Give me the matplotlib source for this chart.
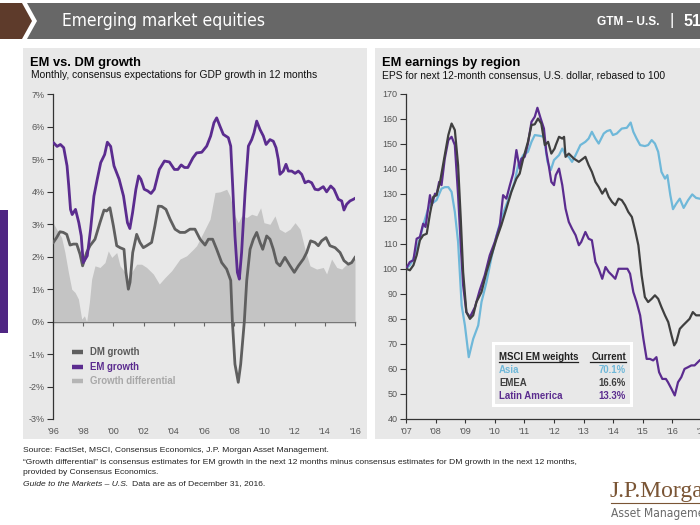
import matplotlib
matplotlib.use("Agg")
import matplotlib.pyplot as plt
from matplotlib.patches import Polygon, Rectangle
from matplotlib.lines import Line2D
from matplotlib import font_manager
from matplotlib.font_manager import FontProperties

# ---------------- data: left panel (EM vs DM growth, %) ----------------
em_years = [1996.04, 1996.27, 1996.49, 1996.71, 1996.93, 1997.04, 1997.16, 1997.27, 1997.49, 1997.71,
            1997.87, 1998.00, 1998.27, 1998.49, 1998.71, 1998.93, 1999.16, 1999.42, 1999.60, 1999.82,
            2000.04, 2000.38, 2000.67, 2000.93, 2001.09, 2001.27, 2001.49, 2001.67, 2001.82, 2002.04,
            2002.27, 2002.49, 2002.71, 2003.04, 2003.38, 2003.71, 2004.04, 2004.27, 2004.49, 2004.71,
            2004.93, 2005.27, 2005.51, 2005.85, 2006.18, 2006.44, 2006.66, 2006.84, 2007.06, 2007.28,
            2007.61, 2007.77, 2007.90, 2008.05, 2008.21, 2008.34, 2008.49, 2008.72, 2008.94, 2009.16,
            2009.31, 2009.49, 2009.71, 2009.93, 2010.11, 2010.37, 2010.59, 2010.77, 2010.92, 2011.03,
            2011.25, 2011.43, 2011.59, 2011.81, 2012.03, 2012.25, 2012.47, 2012.69, 2012.91, 2013.13,
            2013.35, 2013.57, 2013.90, 2014.12, 2014.39, 2014.61, 2014.90, 2015.12, 2015.27, 2015.45,
            2015.67, 2015.89, 2016.00]
em_growth = [5.51, 5.40, 5.46, 5.36, 4.80, 4.20, 3.46, 3.30, 3.46, 3.05,
             2.64, 1.82, 2.03, 2.85, 3.87, 4.39, 4.90, 5.15, 5.53, 5.40,
             4.80, 4.39, 3.87, 3.05, 2.87, 3.36, 4.08, 4.49, 4.39, 4.08,
             4.03, 3.95, 4.08, 4.69, 4.95, 4.92, 4.69, 4.69, 4.83, 4.75,
             4.75, 5.05, 5.20, 5.22, 5.41, 5.72, 6.13, 6.28, 6.02, 5.77,
             5.67, 5.41, 4.18, 2.64, 1.52, 1.31, 2.13, 3.98, 5.41, 5.61,
             5.82, 6.18, 5.92, 5.72, 5.46, 5.61, 5.56, 5.36, 5.00, 4.54,
             4.64, 4.85, 4.64, 4.64, 4.57, 4.64, 4.54, 4.28, 4.33, 4.28,
             4.08, 4.06, 4.16, 4.00, 4.18, 4.08, 3.77, 3.72, 3.44, 3.62,
             3.72, 3.77, 3.80]

dm_years = [1996.02, 1996.24, 1996.46, 1996.68, 1996.91, 1997.13, 1997.35, 1997.57, 1997.79, 1997.96,
            1998.23, 1998.45, 1998.78, 1999.11, 1999.38, 1999.55, 1999.77, 2000.00, 2000.22, 2000.44,
            2000.70, 2000.83, 2000.99, 2001.10, 2001.28, 2001.54, 2001.76, 2001.98, 2002.20, 2002.53,
            2002.75, 2002.98, 2003.20, 2003.48, 2003.75, 2004.08, 2004.41, 2004.74, 2005.07, 2005.40,
            2005.74, 2006.07, 2006.29, 2006.57, 2006.84, 2007.17, 2007.50, 2007.77, 2007.88, 2008.05,
            2008.27, 2008.43, 2008.67, 2008.83, 2009.05, 2009.27, 2009.49, 2009.71, 2009.89, 2010.15,
            2010.37, 2010.59, 2010.81, 2011.03, 2011.36, 2011.70, 2011.98, 2012.25, 2012.58, 2012.80,
            2013.06, 2013.35, 2013.57, 2013.79, 2014.08, 2014.34, 2014.68, 2015.01, 2015.27, 2015.56,
            2015.78, 2016.00]
dm_growth = [2.44, 2.59, 2.77, 2.75, 2.69, 2.36, 2.39, 2.39, 2.08, 1.72,
             2.13, 2.34, 2.54, 3.05, 3.44, 3.41, 3.51, 2.95, 2.34, 2.28,
             2.23, 1.52, 1.00, 1.21, 2.13, 2.69, 2.44, 2.28, 2.34, 2.44,
             2.95, 3.56, 3.55, 3.46, 3.16, 2.85, 2.75, 2.75, 2.85, 2.85,
             2.54, 2.36, 2.54, 2.54, 2.23, 1.82, 1.62, 1.27, 0.00, -1.31,
             -1.87, -1.31, 0.00, 1.27, 2.23, 2.54, 2.75, 2.44, 2.23, 2.64,
             2.54, 2.23, 1.82, 1.72, 1.98, 1.72, 1.52, 1.72, 1.93, 2.13,
             2.49, 2.44, 2.34, 2.49, 2.59, 2.34, 2.28, 2.13, 1.88, 1.77,
             1.82, 1.98]

diff_years = [1996.00, 1996.24, 1996.57, 1996.79, 1997.02, 1997.24, 1997.46, 1997.68, 1997.90, 1998.08,
              1998.23, 1998.41, 1998.56, 1998.78, 1999.11, 1999.44, 1999.66, 1999.89, 2000.22, 2000.44,
              2000.77, 2000.99, 2001.21, 2001.54, 2001.87, 2002.20, 2002.64, 2003.04, 2003.42, 2003.86,
              2004.41, 2004.85, 2005.29, 2005.51, 2005.96, 2006.40, 2006.73, 2007.06, 2007.50, 2007.72,
              2008.05, 2008.27, 2008.49, 2008.83, 2009.16, 2009.49, 2009.75, 2009.97, 2010.37, 2010.70,
              2010.99, 2011.36, 2011.70, 2012.03, 2012.36, 2012.69, 2013.02, 2013.46, 2013.90, 2014.12,
              2014.45, 2014.79, 2015.12, 2015.45, 2015.89, 2016.00]
growth_diff = [3.05, 2.85, 2.59, 2.13, 1.52, 1.00, 0.90, 0.70, 0.08, 0.18,
               0.00, 0.60, 1.31, 1.72, 1.67, 1.82, 2.18, 1.98, 2.13, 1.72,
               1.52, 1.31, 1.52, 1.77, 1.77, 1.67, 1.47, 1.16, 1.36, 1.57,
               1.93, 2.03, 2.23, 2.34, 2.75, 3.16, 3.98, 4.00, 4.08, 3.87,
               3.26, 3.05, 3.26, 3.21, 3.31, 3.26, 3.51, 3.05, 3.00, 3.26,
               2.85, 2.75, 2.85, 3.05, 2.85, 2.23, 1.72, 1.62, 1.67, 1.47,
               1.93, 1.67, 1.62, 1.77, 1.93, 1.93]

left_yticks = [-3, -2, -1, 0, 1, 2, 3, 4, 5, 6, 7]
left_xticks = [1996, 1998, 2000, 2002, 2004, 2006, 2008, 2010, 2012, 2014, 2016]
left_xlabels = ["'96", "'98", "'00", "'02", "'04", "'06", "'08", "'10", "'12", "'14", "'16"]
left_legend = ["DM growth", "EM growth", "Growth differential"]

# ---------------- data: right panel (EPS rebased to 100) ----------------
asia_years = [2007.00, 2007.13, 2007.25, 2007.36, 2007.47, 2007.58, 2007.75, 2007.87, 2008.03, 2008.20,
              2008.31, 2008.43, 2008.54, 2008.65, 2008.76, 2008.88, 2008.99, 2009.12, 2009.27, 2009.44,
              2009.55, 2009.72, 2009.89, 2010.06, 2010.22, 2010.34, 2010.51, 2010.67, 2010.79, 2010.96,
              2011.12, 2011.24, 2011.35, 2011.52, 2011.66, 2011.78, 2011.89, 2012.00, 2012.17, 2012.28,
              2012.39, 2012.50, 2012.61, 2012.73, 2012.89, 2013.06, 2013.17, 2013.28, 2013.40, 2013.51,
              2013.68, 2013.79, 2013.90, 2013.99, 2014.12, 2014.29, 2014.46, 2014.59, 2014.68, 2014.79,
              2014.91, 2015.07, 2015.18, 2015.30, 2015.41, 2015.52, 2015.63, 2015.75, 2015.83, 2015.93,
              2016.02, 2016.13, 2016.25, 2016.38, 2016.53, 2016.67, 2016.80, 2016.92]
asia_eps = [100.0, 101.4, 104.0, 108.0, 112.0, 117.4, 124.0, 126.0, 127.4, 132.0,
            132.6, 132.6, 130.7, 122.7, 110.7, 85.4, 77.4, 64.7, 72.0, 77.4,
            86.7, 94.7, 104.7, 113.4, 120.0, 124.0, 129.4, 134.7, 141.4, 145.4,
            146.7, 150.7, 153.4, 153.1, 152.7, 142.7, 139.4, 143.4, 145.4, 148.0,
            145.4, 144.7, 142.7, 145.4, 149.4, 150.7, 152.0, 154.7, 152.0, 150.0,
            154.0, 155.0, 155.4, 153.4, 154.0, 156.0, 156.3, 158.4, 154.7, 152.0,
            149.4, 149.0, 149.4, 151.4, 150.0, 146.7, 138.7, 136.0, 137.4, 129.4,
            123.8, 126.0, 128.0, 124.3, 127.4, 129.7, 128.3, 128.0]

emea_years = [2007.00, 2007.13, 2007.25, 2007.36, 2007.47, 2007.58, 2007.70, 2007.81, 2007.92, 2008.03,
              2008.15, 2008.31, 2008.43, 2008.54, 2008.65, 2008.76, 2008.85, 2008.93, 2009.04, 2009.16,
              2009.27, 2009.38, 2009.55, 2009.72, 2009.89, 2010.06, 2010.22, 2010.39, 2010.56, 2010.73,
              2010.84, 2010.96, 2011.12, 2011.24, 2011.35, 2011.46, 2011.57, 2011.69, 2011.80, 2011.91,
              2012.02, 2012.06, 2012.17, 2012.28, 2012.34, 2012.39, 2012.50, 2012.67, 2012.84, 2012.95,
              2013.06, 2013.17, 2013.28, 2013.40, 2013.51, 2013.63, 2013.74, 2013.85, 2013.96, 2014.07,
              2014.18, 2014.29, 2014.40, 2014.51, 2014.63, 2014.74, 2014.85, 2014.96, 2015.07, 2015.18,
              2015.30, 2015.41, 2015.52, 2015.63, 2015.75, 2015.86, 2015.97, 2016.06, 2016.13, 2016.25,
              2016.36, 2016.47, 2016.58, 2016.69, 2016.80, 2016.92]
emea_eps = [100.0, 99.4, 101.4, 105.4, 111.4, 113.4, 114.0, 122.0, 128.7, 129.4,
            134.7, 145.4, 153.4, 158.0, 155.4, 141.4, 120.0, 98.7, 82.7, 80.0,
            81.4, 86.7, 90.7, 98.7, 105.4, 112.0, 117.4, 124.0, 130.7, 136.0,
            138.0, 144.0, 150.7, 157.4, 157.7, 160.0, 158.0, 149.4, 150.7, 146.0,
            148.0, 149.4, 152.7, 152.0, 152.7, 144.7, 146.0, 144.0, 142.7, 143.7,
            144.7, 141.4, 138.7, 134.7, 132.7, 130.0, 132.0, 128.7, 126.7, 125.4,
            128.0, 127.4, 125.4, 122.7, 120.7, 115.4, 109.4, 97.4, 88.7, 86.7,
            88.0, 89.4, 88.0, 84.7, 81.4, 78.7, 73.4, 69.4, 70.7, 76.0,
            77.4, 78.7, 80.0, 82.7, 81.4, 81.4]

latam_years = [2007.00, 2007.13, 2007.25, 2007.36, 2007.47, 2007.58, 2007.66, 2007.81, 2007.87, 2007.98,
               2008.03, 2008.12, 2008.20, 2008.31, 2008.43, 2008.54, 2008.65, 2008.76, 2008.85, 2008.93,
               2009.04, 2009.16, 2009.33, 2009.49, 2009.66, 2009.83, 2010.00, 2010.17, 2010.28, 2010.39,
               2010.51, 2010.62, 2010.67, 2010.73, 2010.84, 2010.90, 2011.01, 2011.12, 2011.24, 2011.35,
               2011.44, 2011.55, 2011.66, 2011.74, 2011.82, 2011.91, 2012.00, 2012.06, 2012.17, 2012.28,
               2012.39, 2012.50, 2012.61, 2012.73, 2012.84, 2012.92, 2013.06, 2013.17, 2013.28, 2013.40,
               2013.51, 2013.63, 2013.74, 2013.85, 2013.96, 2014.07, 2014.18, 2014.35, 2014.48, 2014.57,
               2014.68, 2014.79, 2014.91, 2015.02, 2015.13, 2015.24, 2015.35, 2015.46, 2015.55, 2015.66,
               2015.78, 2015.85, 2015.97, 2016.08, 2016.19, 2016.30, 2016.41, 2016.53, 2016.64, 2016.75,
               2016.86, 2016.92]
latam_eps = [100.0, 102.7, 103.4, 112.0, 112.7, 118.0, 116.7, 129.4, 125.4, 130.0,
             129.4, 134.7, 133.4, 144.0, 151.4, 152.7, 149.4, 129.4, 109.4, 93.4,
             82.7, 80.7, 84.7, 91.4, 97.4, 105.4, 110.7, 117.4, 129.4, 128.0,
             133.4, 138.0, 142.0, 147.4, 140.0, 144.0, 144.7, 150.0, 158.7, 160.7,
             164.3, 160.0, 156.0, 146.7, 141.4, 134.7, 133.4, 137.4, 140.0, 133.4,
             124.0, 118.7, 116.0, 113.4, 109.4, 110.7, 114.7, 112.0, 111.4, 102.7,
             100.0, 96.0, 100.7, 98.7, 97.4, 96.0, 100.0, 100.0, 100.0, 98.0,
             90.7, 86.7, 81.4, 72.0, 64.0, 64.0, 63.4, 64.7, 58.7, 56.0,
             56.0, 54.7, 52.0, 49.4, 54.7, 56.7, 60.0, 60.7, 61.4, 61.4,
             62.7, 63.4]

right_yticks = [40, 50, 60, 70, 80, 90, 100, 110, 120, 130, 140, 150, 160, 170]
right_xticks = [2007, 2008, 2009, 2010, 2011, 2012, 2013, 2014, 2015, 2016, 2017]
right_xlabels = ["'07", "'08", "'09", "'10", "'11", "'12", "'13", "'14", "'15", "'16", "'17"]
table_regions = ["Asia", "EMEA", "Latin America"]
table_weights = ["70.1%", "16.6%", "13.3%"]

# ---------------- style ----------------
C_EM = '#5b2c8f'
C_DM = '#5f5f5f'
C_DIFF = '#c4c4c4'
C_ASIA = '#6fb8d9'
C_EMEA = '#3f3f3f'
C_LATAM = '#5b2c8f'
PANEL = '#e8e8e8'
TICKC = '#555555'

plt.rcParams['font.family'] = ['Liberation Sans', 'DejaVu Sans']
ttf = font_manager.fontManager.ttflist
avail = {f.name for f in ttf}


def _is_regular(f):
    w = f.weight
    if isinstance(w, str):
        return w.lower() in ('normal', 'regular', 'book', 'medium', '400', '500')
    return 350 <= int(w) <= 500


def _is_cond(f):
    s = f.stretch
    if isinstance(s, str):
        return 'condensed' in s.lower() or 'narrow' in s.lower()
    return int(s) < 500


def find_condensed():
    for fam in ['Liberation Sans Narrow', 'DejaVu Sans', 'Roboto', 'Open Sans', 'Noto Sans']:
        for f in ttf:
            if f.name == fam and f.style == 'normal' and _is_regular(f) and (
                    'narrow' in fam.lower() or _is_cond(f)):
                return f.fname
    return None


cond_path = find_condensed()
HEAD_FP = FontProperties(fname=cond_path) if cond_path else FontProperties(family='Liberation Sans')
SERIF = 'Liberation Serif' if 'Liberation Serif' in avail else 'DejaVu Serif'

W, H = 700, 525
fig = plt.figure(figsize=(7, 5.25), dpi=100)
fig.patch.set_facecolor('white')
renderer = fig.canvas.get_renderer()


def fx(px):
    return px / W


def fy(py):
    return 1 - py / H


def fit_width(txt, target_px, start=12.0):
    txt.set_fontsize(start)
    w = txt.get_window_extent(renderer=renderer).width
    if w > 0:
        txt.set_fontsize(start * target_px / w)
    return txt


def fig_poly(pts, **kw):
    p = Polygon([(fx(a), fy(b)) for a, b in pts], closed=True, transform=fig.transFigure, **kw)
    fig.add_artist(p)
    return p


def fig_rect(x0, y0, x1, y1, **kw):
    r = Rectangle((fx(x0), fy(y1)), fx(x1) - fx(x0), fy(y0) - fy(y1), transform=fig.transFigure, **kw)
    fig.add_artist(r)
    return r


def fig_line(x0, y0, x1, y1, **kw):
    ln = Line2D([fx(x0), fx(x1)], [fy(y0), fy(y1)], transform=fig.transFigure, **kw)
    fig.add_artist(ln)
    return ln


# header bar
fig_poly([(0, 3), (22, 3), (32, 21), (22, 39), (0, 39)], facecolor='#5e3b2b', edgecolor='none', zorder=-4)
fig_poly([(27, 3), (700, 3), (700, 39), (27, 39), (37, 21)], facecolor='#676767', edgecolor='none', zorder=-4)
t_head = fig.text(fx(62), fy(21), 'Emerging market equities', color='white', fontproperties=HEAD_FP,
                  va='center', ha='left')
fit_width(t_head, 204, 14)
fig.text(fx(597), fy(22), 'GTM – U.S.', color='white', fontsize=8.6, weight='bold',
         va='center', ha='left')
fig.text(fx(672), fy(21), '|', color='white', fontsize=12, va='center', ha='center')
fig.text(fx(684), fy(22), '51', color='white', fontsize=11.5, weight='bold',
         va='center', ha='left')

# side purple tab
fig_rect(0, 210, 8, 333, facecolor='#4f2683', edgecolor='none', zorder=-4)

# panels
fig_rect(23, 48, 367, 439, facecolor=PANEL, edgecolor='none', zorder=-5)
fig_rect(375, 48, 705, 439, facecolor=PANEL, edgecolor='none', zorder=-5)

# titles
fig.text(fx(30), fy(63), 'EM vs. DM growth', fontsize=9.3, weight='bold', color='black', va='center')
fig.text(fx(31), fy(75.5), 'Monthly, consensus expectations for GDP growth in 12 months', fontsize=7.4,
         color='#111111', va='center')
fig.text(fx(382), fy(63), 'EM earnings by region', fontsize=9.3, weight='bold', color='black', va='center')
fig.text(fx(382), fy(75.5), 'EPS for next 12-month consensus, U.S. dollar, rebased to 100', fontsize=7.4,
         color='#111111', va='center')

# ---------------- left axes ----------------
ax1 = fig.add_axes([fx(53), fy(419), (355 - 53) / W, (419 - 94.5) / H])
ax1.set_facecolor('none')
ax1.set_xlim(1996, 2016)
ax1.set_ylim(-3, 7)
ax1.fill_between(diff_years, 0, growth_diff, color=C_DIFF, lw=0, zorder=1)
sec = ax1.secondary_xaxis(0.3)
sec.set_xticks(left_xticks)
sec.tick_params(axis='x', length=3, width=0.8, color='#666666', labelbottom=False, labeltop=False)
for s in sec.spines.values():
    s.set_color('#6a6a6a')
    s.set_linewidth(1.0)
ax1.plot(dm_years, dm_growth, color=C_DM, lw=2.0, solid_joinstyle='round', zorder=3)
ax1.plot(em_years, em_growth, color=C_EM, lw=2.0, solid_joinstyle='round', zorder=4)
for s in ['top', 'right', 'bottom']:
    ax1.spines[s].set_visible(False)
ax1.spines['left'].set_color('#333333')
ax1.spines['left'].set_linewidth(0.9)
ax1.set_yticks(left_yticks)
ax1.set_yticklabels([f'{v}%' for v in left_yticks])
ax1.set_xticks(left_xticks)
ax1.set_xticklabels(left_xlabels)
ax1.tick_params(axis='y', length=4, width=0.8, color='#333333', labelsize=6.5, labelcolor=TICKC, pad=2)
ax1.tick_params(axis='x', length=0, labelsize=6.5, labelcolor=TICKC, pad=6)

# left legend
leg_cols = [C_DM, C_EM, '#b5b5b5']
leg_text_cols = ['#5a5a5a', C_EM, '#a8a8a8']
for i, (lab, lc, tc) in enumerate(zip(left_legend, leg_cols, leg_text_cols)):
    yy = 352 + i * 14.6
    fig_line(72, yy, 83, yy, color=lc, lw=3.2, solid_capstyle='butt')
    fig.text(fx(90), fy(yy), lab, fontsize=6.9, weight='bold', color=tc, va='center', ha='left')

# ---------------- right axes ----------------
ax2 = fig.add_axes([fx(406), fy(419), (10.2 * 29.6) / W, (419 - 93.5) / H])
ax2.set_facecolor('none')
ax2.set_xlim(2007, 2017.2)
ax2.set_ylim(40, 170)
ax2.plot(asia_years, asia_eps, color=C_ASIA, lw=1.6, zorder=3)
ax2.plot(latam_years, latam_eps, color=C_LATAM, lw=1.6, zorder=4)
ax2.plot(emea_years, emea_eps, color=C_EMEA, lw=1.6, zorder=5)
for s in ['top', 'right']:
    ax2.spines[s].set_visible(False)
for s in ['left', 'bottom']:
    ax2.spines[s].set_color('#333333')
    ax2.spines[s].set_linewidth(0.9)
ax2.set_yticks(right_yticks)
ax2.set_xticks(right_xticks)
ax2.set_xticklabels(right_xlabels)
ax2.tick_params(axis='y', length=4, width=0.8, color='#333333', labelsize=6.5, labelcolor=TICKC, pad=2)
ax2.tick_params(axis='x', length=3, width=0.8, color='#333333', labelsize=6.5, labelcolor=TICKC, pad=3)

# table box
fig_rect(493, 343, 631, 405, facecolor=PANEL, edgecolor='white', lw=2.2, zorder=8)
fig.text(fx(499), fy(357), 'MSCI EM weights', fontsize=6.9, weight='bold', color='#222222',
         va='center', ha='left', zorder=9)
fig.text(fx(626), fy(357), 'Current', fontsize=6.9, weight='bold', color='#222222',
         va='center', ha='right', zorder=9)
fig_line(499, 362, 578, 362, color='#222222', lw=0.9, zorder=9)
fig_line(590, 362, 626, 362, color='#222222', lw=0.9, zorder=9)
for i, (reg, wt, col) in enumerate(zip(table_regions, table_weights, [C_ASIA, C_EMEA, C_LATAM])):
    yy = 370 + i * 12.8
    fig.text(fx(499), fy(yy), reg, fontsize=6.9, weight='bold', color=col, va='center', ha='left', zorder=9)
    fig.text(fx(626), fy(yy), wt, fontsize=6.9, weight='bold', color=col, va='center', ha='right', zorder=9)

# footnotes
foot = ["Source: FactSet, MSCI, Consensus Economics, J.P. Morgan Asset Management.",
        "“Growth differential” is consensus estimates for EM growth in the next 12 months minus consensus "
        "estimates for DM growth in the next 12 months,",
        "provided by Consensus Economics."]
for i, t in enumerate(foot):
    fig.text(fx(23), fy(451 + i * 11), t, fontsize=6.1, color='#222222', va='center', ha='left')
fig.text(fx(23), fy(484), 'Guide to the Markets – U.S.', fontsize=6.1, style='italic', color='#222222',
         va='center', ha='left')
fig.text(fx(132), fy(484), 'Data are as of December 31, 2016.', fontsize=6.1, color='#222222',
         va='center', ha='left')

# logo
fig.text(fx(610), fy(491), 'J.P.Morgan', family=SERIF, fontsize=17, color='#7a5535', va='center', ha='left')
fig_line(611, 503, 705, 503, color='#7a5535', lw=0.8)
t_am = fig.text(fx(611), fy(514), 'Asset Management', fontproperties=HEAD_FP, color='#6a6a6a',
                va='center', ha='left')
fit_width(t_am, 104, 10)

fig.savefig('out.png', dpi=100)
